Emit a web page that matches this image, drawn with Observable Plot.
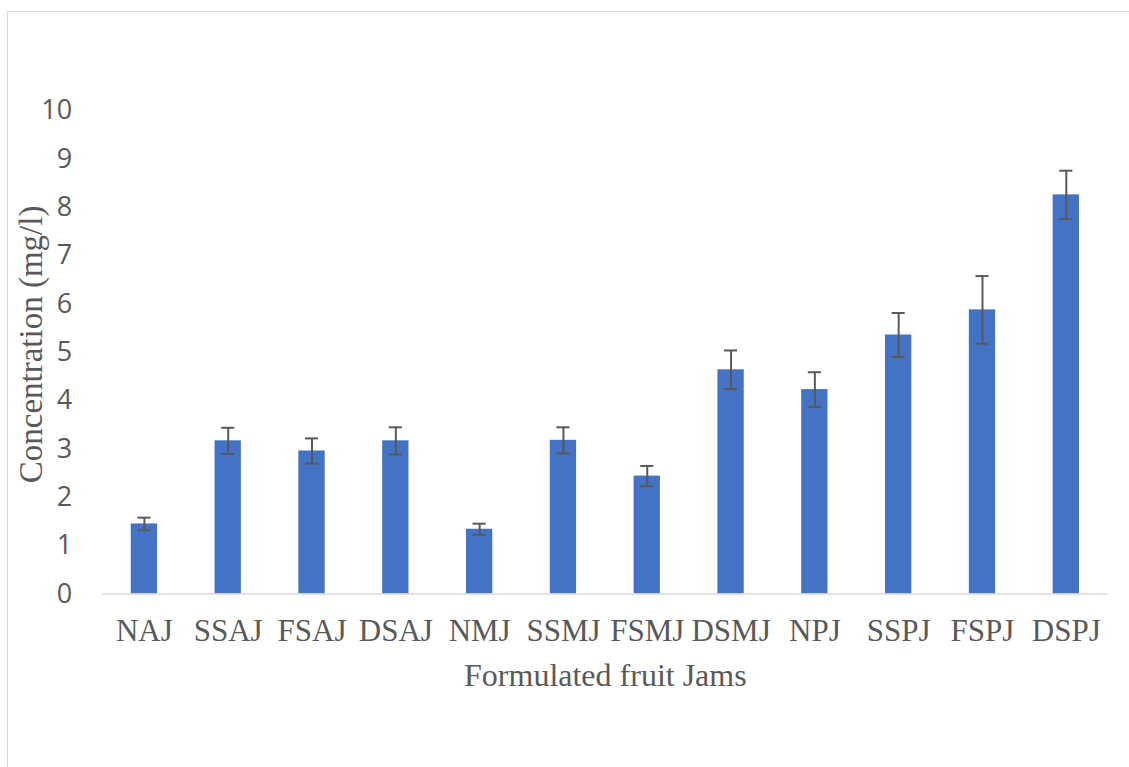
<!DOCTYPE html>
<html>
<head>
<meta charset="utf-8">
<script src="https://cdn.jsdelivr.net/npm/d3@7"></script>
<script src="https://cdn.jsdelivr.net/npm/@observablehq/plot@0.6"></script>
<style>
  html, body { margin: 0; padding: 0; background: #fff; width: 1129px; height: 767px; overflow: hidden; }
  #frame { position: absolute; left: 7px; top: 11px; width: 1300px; height: 900px; border: 1px solid #d9d9d9; }
  #chart { position: absolute; left: 0; top: 0; }
</style>
</head>
<body>
<div id="frame"></div>
<div id="chart"></div>
<script>
const categories = ["NAJ","SSAJ","FSAJ","DSAJ","NMJ","SSMJ","FSMJ","DSMJ","NPJ","SSPJ","FSPJ","DSPJ"];
const values = [1.45, 3.17, 2.96, 3.17, 1.34, 3.18, 2.44, 4.64, 4.23, 5.36, 5.88, 8.26];
const errors = [0.13, 0.27, 0.26, 0.28, 0.115, 0.27, 0.21, 0.40, 0.36, 0.455, 0.70, 0.50];
const yTicks = [0, 1, 2, 3, 4, 5, 6, 7, 8, 9, 10];
const xTitle = "Formulated fruit Jams";
const yTitle = "Concentration (mg/l)";

const data = categories.map((c, i) => ({name: c, v: values[i], e: errors[i]}));
const gray = "#595959";

const chart = Plot.plot({
  width: 1129,
  height: 767,
  marginLeft: 102,
  marginRight: 21.3,
  marginTop: 110.3,
  marginBottom: 173.5,
  style: {background: "transparent", overflow: "visible"},
  x: {domain: categories, paddingInner: 0.686, paddingOuter: 0.343, round: false, label: null},
  y: {domain: [0, 10], label: null},
  marks: [
    Plot.barY(data, {x: "name", y: "v", fill: "#4472C4"}),
    Plot.ruleY([0], {stroke: "#d9d9d9", strokeWidth: 1.5}),
    Plot.ruleX(data, {x: "name", y1: d => d.v - d.e, y2: d => d.v + d.e, stroke: gray, strokeWidth: 2}),
    Plot.tickY(data, {x: "name", y: d => d.v + d.e, stroke: gray, strokeWidth: 2, insetLeft: 6.6, insetRight: 6.6}),
    Plot.tickY(data, {x: "name", y: d => d.v - d.e, stroke: gray, strokeWidth: 2, insetLeft: 6.6, insetRight: 6.6}),
    Plot.axisY({ticks: yTicks, tickSize: 0, tickPadding: 30.3, fontFamily: "Open Sans", fontSize: 27, fill: gray, label: null}),
    Plot.axisX({tickSize: 0, tickPadding: 25, fontFamily: "Liberation Serif", fontSize: 31, fill: gray, label: null}),
    Plot.text([xTitle], {frameAnchor: "bottom", textAnchor: "middle", lineAnchor: "middle", dy: 81.3, text: d => d, fontFamily: "Liberation Serif", fontSize: 32, fill: gray}),
    Plot.text([yTitle], {frameAnchor: "left", textAnchor: "middle", lineAnchor: "middle", dx: -70.6, dy: -8, rotate: -90, text: d => d, fontFamily: "Liberation Serif", fontSize: 33, fill: gray})
  ]
});
document.getElementById("chart").appendChild(chart);
</script>
</body>
</html>
